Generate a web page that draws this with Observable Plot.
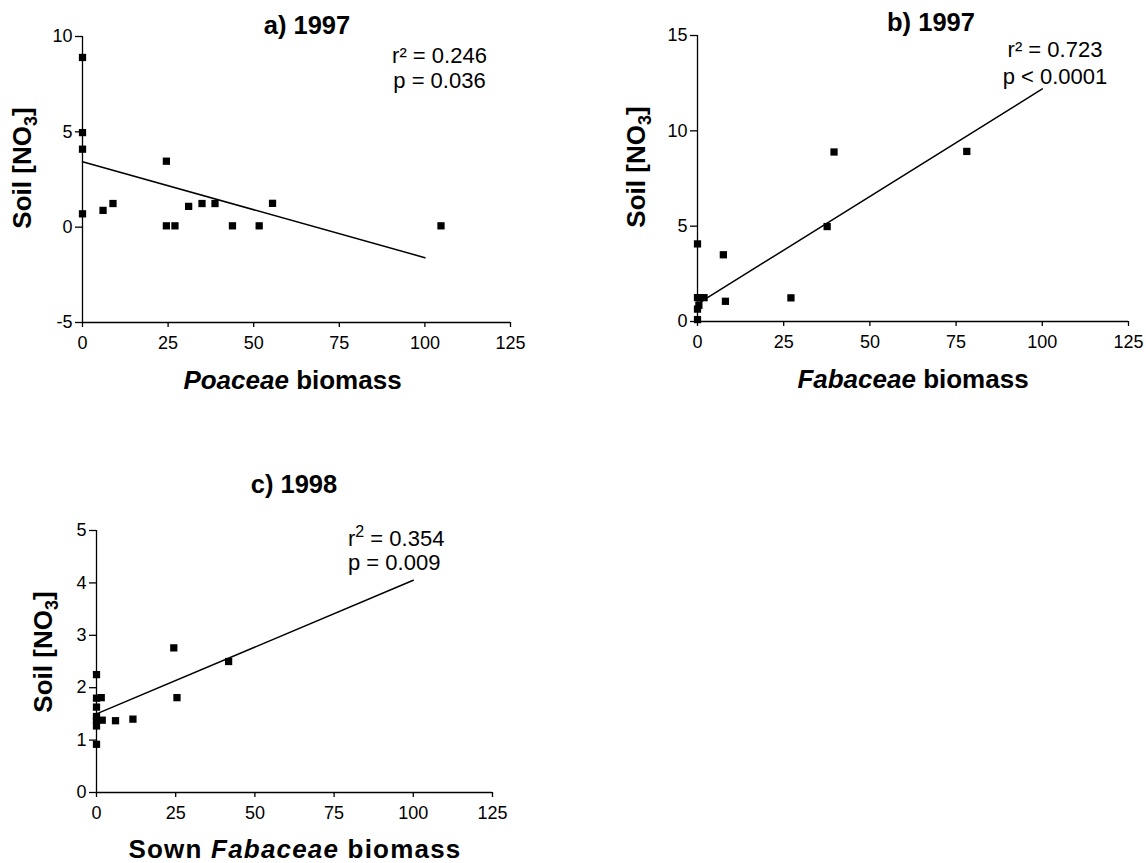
<!DOCTYPE html>
<html>
<head>
<meta charset="utf-8">
<script src="https://cdn.jsdelivr.net/npm/d3@7"></script>
<script src="https://cdn.jsdelivr.net/npm/@observablehq/plot@0.6"></script>
<style>
  html, body { margin: 0; padding: 0; background: #fff; }
  #wrap { position: relative; width: 1146px; height: 863px; background: #fff; overflow: hidden; }
  .panel { position: absolute; }
  .panel svg { overflow: visible; max-width: none !important; }
  #overlay { position: absolute; left: 0; top: 0; pointer-events: none; }
</style>
</head>
<body>
<div id="wrap"></div>
<script>
// ---------- Data ----------
// Panel a) 1997 : Poaceae biomass vs soil NO3
const poaceaeBiomass = [0, 0, 0, 0, 6.0, 8.9, 24.5, 24.5, 27.0, 31.0, 34.9, 38.7, 43.8, 51.6, 55.5, 104.7];
const soilNO3A       = [8.9, 4.96, 4.09, 0.70, 0.88, 1.24, 3.46, 0.07, 0.07, 1.09, 1.24, 1.24, 0.07, 0.07, 1.25, 0.07];
const fitAx = [0, 100];
const fitAy = [3.43, -1.6];

// Panel b) 1997 : Fabaceae biomass vs soil NO3
const fabaceaeBiomass = [0, 7.5, 39.6, 78.1, 37.6, 27.1, 8.1, 0, 0.7, 1.9, 0.4, 0, 0];
const soilNO3B        = [4.07, 3.5, 8.89, 8.92, 4.98, 1.24, 1.06, 1.25, 1.25, 1.25, 0.85, 0.65, 0.1];
const fitBx = [0, 100];
const fitBy = [0.92, 12.2];

// Panel c) 1998 : Sown Fabaceae biomass vs soil NO3
const sownFabaceae = [0, 0, 1.5, 0, 0, 0, 1.8, 0, 0, 6.0, 11.5, 24.4, 25.4, 41.7];
const soilNO3C     = [2.25, 1.80, 1.81, 1.63, 1.45, 1.38, 1.38, 1.27, 0.92, 1.37, 1.40, 2.76, 1.81, 2.50];
const fitCx = [0, 100];
const fitCy = [1.5, 4.05];

const xTicks = [0, 25, 50, 75, 100, 125];
const yTicksA = [-5, 0, 5, 10];
const yTicksB = [0, 5, 10, 15];
const yTicksC = [0, 1, 2, 3, 4, 5];

// ---------- Helpers ----------
const FONT = "'Liberation Sans', Arial, Helvetica, sans-serif";
const wrap = document.getElementById("wrap");

function toPoints(xs, ys) { return xs.map((x, i) => ({x, y: ys[i]})); }

function panel({left, top, width, height, margins, yDomain, yTicks, pts, fit}) {
  const [mt, mr, mb, ml] = margins;
  const chart = Plot.plot({
    width, height,
    marginTop: mt, marginRight: mr, marginBottom: mb, marginLeft: ml,
    style: {fontFamily: FONT, fontSize: "18px", color: "#000", background: "transparent", overflow: "visible"},
    x: {domain: [0, 125], label: null},
    y: {domain: yDomain, label: null},
    marks: [
      Plot.ruleX([0], {stroke: "#000", strokeWidth: 1.3}),
      Plot.ruleY([yDomain[0]], {stroke: "#000", strokeWidth: 1.3}),
      Plot.axisX({ticks: xTicks, tickSize: 5, tickPadding: 9, tickFormat: d => String(d), strokeWidth: 1.3, label: null}),
      Plot.axisY({ticks: yTicks, tickSize: 7, tickPadding: 3, tickFormat: d => String(d), strokeWidth: 1.3, label: null}),
      Plot.line(fit, {x: "x", y: "y", stroke: "#000", strokeWidth: 1.5}),
      Plot.dot(pts, {x: "x", y: "y", symbol: "square", r: 4.1, fill: "#000", stroke: "none"})
    ]
  });
  const div = document.createElement("div");
  div.className = "panel";
  div.style.left = left + "px";
  div.style.top = top + "px";
  div.appendChild(chart);
  wrap.appendChild(div);
}

panel({left: 0, top: 0, width: 560, height: 400, margins: [36, 50, 78, 82],
  yDomain: [-5, 10], yTicks: yTicksA,
  pts: toPoints(poaceaeBiomass, soilNO3A), fit: toPoints(fitAx, fitAy)});

panel({left: 580, top: 0, width: 566, height: 400, margins: [35, 18, 79, 117],
  yDomain: [0, 15], yTicks: yTicksB,
  pts: toPoints(fabaceaeBiomass, soilNO3B), fit: toPoints(fitBx, fitBy)});

panel({left: 0, top: 430, width: 560, height: 433, margins: [100, 68, 71, 96],
  yDomain: [0, 5], yTicks: yTicksC,
  pts: toPoints(sownFabaceae, soilNO3C), fit: toPoints(fitCx, fitCy)});

// ---------- Text overlay: titles, axis labels, statistics ----------
const svg = d3.select(wrap).append("svg")
  .attr("id", "overlay")
  .attr("width", 1146).attr("height", 863)
  .style("font-family", FONT);

function title(x, y, t) {
  svg.append("text").attr("x", x).attr("y", y).attr("text-anchor", "middle")
    .attr("font-size", 25.5).attr("font-weight", "bold").text(t);
}
title(307, 34, "a) 1997");
title(931, 31, "b) 1997");
title(294, 493, "c) 1998");

function yLabel(x, y) {
  const t = svg.append("text").attr("transform", `translate(${x},${y}) rotate(-90)`)
    .attr("text-anchor", "middle").attr("font-size", 26).attr("font-weight", "bold");
  t.append("tspan").text("Soil [NO");
  t.append("tspan").attr("font-size", 18).attr("dy", 6).text("3");
  t.append("tspan").attr("dy", -6).text("]");
}
yLabel(31, 168);
yLabel(645, 167);
yLabel(52, 652);

function xLabel(x, y, parts, spacing) {
  const t = svg.append("text").attr("x", x).attr("y", y).attr("text-anchor", "middle")
    .attr("font-size", 26).attr("font-weight", "bold");
  if (spacing) t.attr("letter-spacing", spacing);
  parts.forEach(([s, it]) => {
    const sp = t.append("tspan").text(s);
    if (it) sp.attr("font-style", "italic");
  });
}
xLabel(292.5, 389, [["Poaceae", true], [" biomass", false]]);
xLabel(913, 388, [["Fabaceae", true], [" biomass", false]]);
xLabel(295, 858, [["Sown ", false], ["Fabaceae", true], [" biomass", false]], 1.2);

function stat(x, y, t, anchor) {
  svg.append("text").attr("x", x).attr("y", y).attr("text-anchor", anchor)
    .attr("font-size", 22).text(t);
}
stat(439.5, 63, "r² = 0.246", "middle");
stat(439.5, 87.5, "p = 0.036", "middle");
stat(1055, 57, "r² = 0.723", "middle");
stat(1055, 84, "p < 0.0001", "middle");

const rc = svg.append("text").attr("x", 348).attr("y", 546).attr("font-size", 22);
rc.append("tspan").text("r");
rc.append("tspan").attr("font-size", 16).attr("dy", -9).text("2");
rc.append("tspan").attr("dy", 9).text(" = 0.354");
stat(348, 570, "p = 0.009", "start");
</script>
</body>
</html>
